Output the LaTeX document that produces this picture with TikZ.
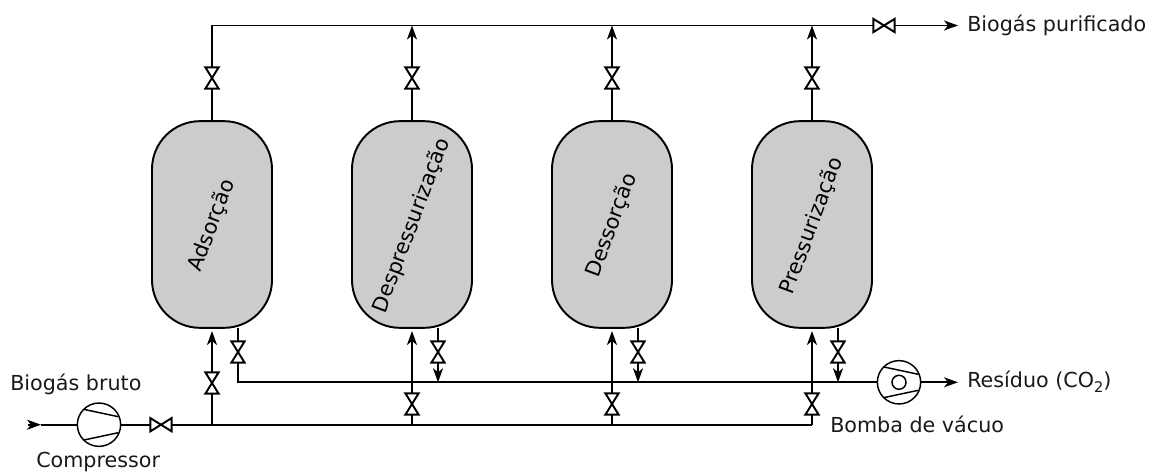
\documentclass[tikz,border=0pt]{standalone}
\usepackage{fontspec}
\setmainfont{DejaVu Sans}
\usetikzlibrary{arrows.meta}
\tikzset{
  pipe/.style={line width=1.45pt,draw=black},
  flow/.style={pipe,-{Stealth[length=10.5pt,width=7.5pt,inset=3pt]}},
  vvalve/.style={rectangle,inner sep=0pt,minimum width=9.5pt,minimum height=15.5pt,
    append after command={\pgfextra{\draw[pipe,line join=miter] (\tikzlastnode.north west)--(\tikzlastnode.north east)--(\tikzlastnode.south west)--(\tikzlastnode.south east)--cycle;}}},
  hvalve/.style={rectangle,inner sep=0pt,minimum width=15.5pt,minimum height=9.5pt,
    append after command={\pgfextra{\draw[pipe,line join=miter] (\tikzlastnode.north west)--(\tikzlastnode.south east)--(\tikzlastnode.north east)--(\tikzlastnode.south west)--cycle;}}},
  vessel/.style={rectangle,draw=black,line width=1.45pt,fill=black!20,rounded corners=36pt,minimum width=90pt,minimum height=155pt,inner sep=0pt},
  vesseltext/.style={font=\fontsize{15.7pt}{18pt}\selectfont,rotate=69.5,inner sep=0pt},
  label/.style={font=\fontsize{15.5pt}{18pt}\selectfont,inner sep=0pt,text=black!90},
  machine/.style={circle,draw=black,line width=1.1pt,minimum size=32.5pt,inner sep=0pt},
  thin part/.style={line width=1.1pt},
}
\begin{document}
\begin{tikzpicture}[x=0.75pt,y=-0.75pt]
\useasboundingbox (0,0) rectangle (1149,473);
% vessels
\node[vessel] (va) at (212,224.5) {};
\node[vessel] (vb) at (412,224.5) {};
\node[vessel] (vc) at (612,224.5) {};
\node[vessel] (vd) at (812,224.5) {};
\node[vesseltext] (ta) at (212,225.5) {Adsorção};
\node[vesseltext] (tb) at (412,225.5) {Despressurização};
\node[vesseltext] (tc) at (612,225.5) {Dessorção};
\node[vesseltext] (td) at (812,226) {Pressurização};
% top valves
\node[vvalve] (ua) at (212,78) {};
\node[vvalve] (ub) at (412,78) {};
\node[vvalve] (uc) at (612,78) {};
\node[vvalve] (ud) at (812,78) {};
\node[hvalve] (uh) at (884,25.5) {};
\coordinate (tl) at (212,25.5);
\coordinate (tb0) at (412,25.5);
\coordinate (tc0) at (612,25.5);
\coordinate (td0) at (812,25.5);
\node[label,anchor=west] (lp) at (967,25.5) {Biogás purificado};
\draw[pipe] (va.north) -- (ua);
\draw[pipe] (ua) -- (tl) -- (uh);
\draw[pipe] (vb.north) -- (ub);
\draw[pipe] (vc.north) -- (uc);
\draw[pipe] (vd.north) -- (ud);
\draw[flow] (ub) -- (tb0);
\draw[flow] (uc) -- (tc0);
\draw[flow] (ud) -- (td0);
\draw[flow] (uh) -- (958,25.5) coordinate (pe);
% machines
\node[machine] (comp) at (99,424.7) {};
\node[machine] (pump) at (899,382.3) {};
\node[circle,draw=black,line width=1.1pt,minimum size=10.5pt,inner sep=0pt] (eye) at (899,382.3) {};
\draw[thin part] (84,409.4) -- (118.3,416.7);
\draw[thin part] (84,440) -- (118.3,432.7);
\draw[thin part] (884,367) -- (918.3,374.3);
\draw[thin part] (884,397.6) -- (918.3,390.3);
% feed
\coordinate (in0) at (28,424.7);
\coordinate (in1) at (41,424.7);
\draw[flow] (in0) -- (in1);
\draw[pipe] (in1) -- (comp);
\node[hvalve] (fv) at (161,424.7) {};
\draw[pipe] (comp) -- (fv);
\coordinate (j1) at (212,424.7);
\coordinate (j2) at (412,424.7);
\coordinate (j3) at (612,424.7);
\coordinate (j4) at (812,424.7);
\draw[pipe] (fv) -- (j1) -- (j4);
% bottom inlet valves
\node[vvalve] (ia) at (212,383) {};
\node[vvalve] (ib) at (412,404) {};
\node[vvalve] (ic) at (612,404) {};
\node[vvalve] (id) at (812,404) {};
\coordinate (ea) at (212,331);
\coordinate (eb) at (412,331);
\coordinate (ec) at (612,331);
\coordinate (ed) at (812,331);
\draw[pipe] (j1) -- (ia);
\draw[pipe] (j2) -- (ib);
\draw[pipe] (j3) -- (ic);
\draw[pipe] (j4) -- (id);
\draw[flow] (ia) -- (ea);
\draw[flow] (ib) -- (eb);
\draw[flow] (ic) -- (ec);
\draw[flow] (id) -- (ed);
% outlet valves
\coordinate (oa) at (238,328);
\coordinate (ob) at (438,328);
\coordinate (oc) at (638,328);
\coordinate (od) at (838,328);
\node[vvalve] (wa) at (238,352) {};
\node[vvalve] (wb) at (438,352) {};
\node[vvalve] (wc) at (638,352) {};
\node[vvalve] (wd) at (838,352) {};
\draw[pipe] (oa) -- (wa);
\draw[pipe] (ob) -- (wb);
\draw[pipe] (oc) -- (wc);
\draw[pipe] (od) -- (wd);
\coordinate (c1) at (238,382.3);
\coordinate (c2) at (438,382.3);
\coordinate (c3) at (638,382.3);
\coordinate (c4) at (838,382.3);
\draw[pipe] (wa) -- (c1) -- (pump);
\draw[flow] (wb) -- (c2);
\draw[flow] (wc) -- (c3);
\draw[flow] (wd) -- (c4);
\draw[flow] (pump) -- (958,382.3) coordinate (re);
% labels
\node[label,anchor=west] (lb) at (10,384) {Biogás bruto};
\node[label,anchor=west] (lc) at (36,462) {Compressor};
\node[label,anchor=west] (lv) at (830,424) {Bomba de vácuo};
\node[label,anchor=west] (lr) at (967,382) {Resíduo (CO\raisebox{-0.25em}{\fontsize{11pt}{11pt}\selectfont 2})};
\end{tikzpicture}
\end{document}
